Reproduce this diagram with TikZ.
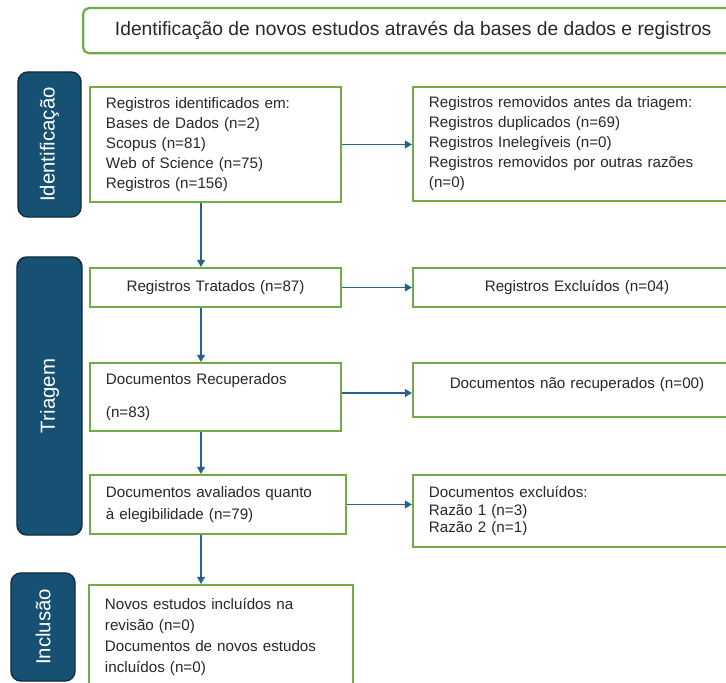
\documentclass[tikz,border=0pt]{standalone}
\usepackage{fontspec}
\setmainfont{Liberation Sans}
\usepackage{xcolor}
\usetikzlibrary{arrows.meta}
\definecolor{boxgreen}{RGB}{112,173,71}
\definecolor{phaseblue}{RGB}{22,80,114}
\definecolor{phaseedge}{RGB}{16,44,64}
\definecolor{flowblue}{RGB}{38,98,140}
\definecolor{txtgray}{RGB}{40,40,40}
\tikzset{
  box/.style={draw=boxgreen,line width=1.4pt,fill=white,anchor=north west,
    inner xsep=0.4cm,inner ysep=0pt,text=txtgray,align=left,
    font=\fontsize{10.8}{14.2}\selectfont},
  phase/.style={draw=phaseedge,line width=1pt,fill=phaseblue,rounded corners=7pt,
    rotate=90,text=white,font=\fontsize{14.5}{16}\selectfont},
  flow/.style={draw=flowblue,line width=1pt,-{Triangle[length=5pt,width=5.5pt]}}
}

\begin{document}
\begin{tikzpicture}[x=0.025cm,y=-0.025cm]
                \useasboundingbox (0,0) rectangle (726,683);
                \clip (0,0) rectangle (726,683);
                \node[box,rounded corners=4pt,line width=1.6pt,align=center,minimum width=16.5cm,minimum height=1.125cm,
                      font=\fontsize{13.7}{15}\selectfont] (title) at (82,7) {Identificação de novos estudos através da bases de dados e registros};
                % fases
                \node[phase,minimum width=3.625cm,minimum height=1.575cm] (ident) at (49.5,144.5) {Identificação};
                \node[phase,minimum width=6.95cm,minimum height=1.625cm] (triag) at (49.5,396) {Triagem};
                \node[phase,minimum width=2.7cm,minimum height=1.6cm] (incl) at (43,627) {Inclusão};
                % caixas
                \node[box,text width=5.475cm,minimum height=2.875cm] (reg) at (89,86) {Registros identificados em:\\Bases de Dados (n=2)\\Scopus (n=81)\\Web of Science (n=75)\\Registros (n=156)};
                \node[box,text width=7.4cm,minimum height=2.85cm] (rem) at (412,86) {Registros removidos antes da triagem:\\Registros duplicados (n=69)\\Registros Inelegíveis (n=0)\\Registros removidos por outras razões\\(n=0)};
                \node[box,text width=5.475cm,align=center,minimum height=0.975cm] (trat) at (89,267) {Registros Tratados (n=87)};
                \node[box,text width=7.4cm,align=center,minimum height=0.975cm] (excl) at (412,267) {Registros Excluídos (n=04)};
                \node[box,text width=5.475cm,minimum height=1.7cm] (recup) at (89,362) {Documentos Recuperados\\[9pt](n=83)};
                \node[box,text width=7.4cm,align=center,minimum height=1.35cm,text depth=9.5pt] (naorec) at (412,362) {Documentos não recuperados (n=00)};
                \node[box,text width=5.6cm,minimum height=1.475cm] (aval) at (89,474) {Documentos avaliados quanto\\[2pt]à elegibilidade (n=79)};
                \node[box,text width=7.4cm,minimum height=1.8cm,font=\fontsize{10.8}{12.5}\selectfont] (docex) at (412,474) {Documentos excluídos:\\Razão 1 (n=3)\\Razão 2 (n=1)};
                \node[box,text width=5.8cm,minimum height=2.6cm,font=\fontsize{10.8}{15}\selectfont] (novos) at (88,584) {Novos estudos incluídos na\\revisão (n=0)\\Documentos de novos estudos\\incluídos (n=0)};
                % setas
                \coordinate (spine) at (201,0);
                \draw[flow] (reg.south -| spine) -- (trat.north -| spine);
                \draw[flow] (trat.south -| spine) -- (recup.north -| spine);
                \draw[flow] (recup.south -| spine) -- (aval.north -| spine);
                \draw[flow] (aval.south -| spine) -- (novos.north -| spine);
                \draw[flow] (reg.east) -- (reg.east -| rem.west);
                \draw[flow] (trat.east) -- (trat.east -| excl.west);
                \draw[flow] ([yshift=0.1cm]recup.east) -- ([yshift=0.1cm]recup.east -| naorec.west);
                \draw[flow] (aval.east) -- (aval.east -| docex.west);
            \end{tikzpicture}
\end{document}
